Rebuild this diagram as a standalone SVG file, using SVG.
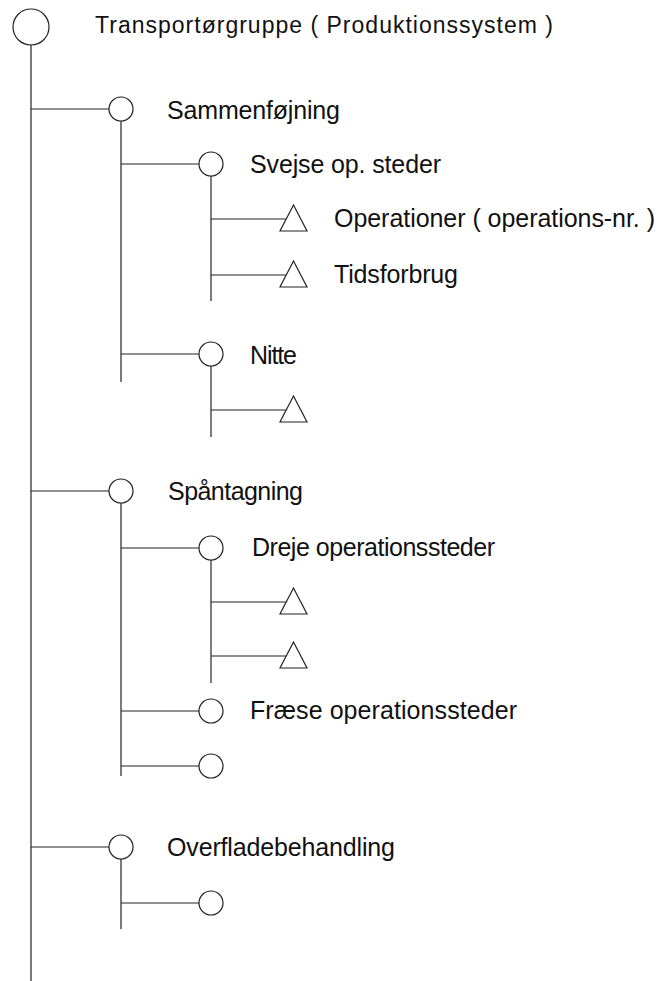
<svg xmlns="http://www.w3.org/2000/svg" width="661" height="981" viewBox="0 0 661 981">
<style>
.c{fill:#fff;stroke:#222;stroke-width:1.2}
.t{fill:#fff;stroke:#222;stroke-width:1.2;stroke-linejoin:miter}
.l{stroke:#222;stroke-width:1.2;fill:none}
text{font-family:"Liberation Sans",Arial,sans-serif;font-size:25px;fill:#111}
text.title{font-size:23px}
</style>
<rect width="661" height="981" fill="#fff"/>
<g id="connectors">
<line class="l" x1="31" y1="45" x2="31" y2="981"/>
<line class="l" x1="31" y1="109" x2="109" y2="109"/>
<line class="l" x1="31" y1="491" x2="109" y2="491"/>
<line class="l" x1="31" y1="847" x2="109" y2="847"/>
<line class="l" x1="121" y1="121" x2="121" y2="382"/>
<line class="l" x1="121" y1="164" x2="199" y2="164"/>
<line class="l" x1="121" y1="354" x2="199" y2="354"/>
<line class="l" x1="211" y1="176" x2="211" y2="301"/>
<line class="l" x1="211" y1="219" x2="287" y2="219"/>
<line class="l" x1="211" y1="275" x2="287" y2="275"/>
<line class="l" x1="211" y1="366" x2="211" y2="437"/>
<line class="l" x1="211" y1="410" x2="287" y2="410"/>
<line class="l" x1="121" y1="503" x2="121" y2="776"/>
<line class="l" x1="121" y1="548" x2="199" y2="548"/>
<line class="l" x1="121" y1="711" x2="199" y2="711"/>
<line class="l" x1="121" y1="766" x2="199" y2="766"/>
<line class="l" x1="211" y1="560" x2="211" y2="683"/>
<line class="l" x1="211" y1="602" x2="287" y2="602"/>
<line class="l" x1="211" y1="656" x2="287" y2="656"/>
<line class="l" x1="121" y1="859" x2="121" y2="929"/>
<line class="l" x1="121" y1="903" x2="199" y2="903"/>
</g>
<g id="n-transportgruppe"><circle class="c" cx="31" cy="27" r="18"/><text class="title" x="95" y="33" textLength="458" lengthAdjust="spacing">Transportørgruppe ( Produktionssystem )</text></g>
<g id="n-sammenfojning"><circle class="c" cx="121" cy="109" r="12"/><text x="167" y="119" textLength="173" lengthAdjust="spacing">Sammenføjning</text></g>
<g id="n-svejse"><circle class="c" cx="211" cy="164" r="12"/><text x="250" y="173" textLength="191" lengthAdjust="spacing">Svejse op. steder</text></g>
<g id="n-operationer"><polygon class="t" points="293.5,205 280,231 307,231"/><text x="334" y="227" textLength="321" lengthAdjust="spacing">Operationer ( operations-nr. )</text></g>
<g id="n-tidsforbrug"><polygon class="t" points="293.5,261 280,287 307,287"/><text x="334" y="283" textLength="124" lengthAdjust="spacing">Tidsforbrug</text></g>
<g id="n-nitte"><circle class="c" cx="211" cy="354" r="12"/><text x="250" y="364" textLength="47" lengthAdjust="spacing">Nitte</text></g>
<g id="n-nitte-attr"><polygon class="t" points="293.5,396 280,422 307,422"/></g>
<g id="n-spantagning"><circle class="c" cx="121" cy="491" r="12"/><text x="168" y="500" textLength="135" lengthAdjust="spacing">Spåntagning</text></g>
<g id="n-dreje"><circle class="c" cx="211" cy="548" r="12"/><text x="252" y="556" textLength="243" lengthAdjust="spacing">Dreje operationssteder</text></g>
<g id="n-dreje-attr1"><polygon class="t" points="293.5,588 280,614 307,614"/></g>
<g id="n-dreje-attr2"><polygon class="t" points="293.5,642 280,668 307,668"/></g>
<g id="n-fraese"><circle class="c" cx="211" cy="711" r="12"/><text x="250" y="719" textLength="267" lengthAdjust="spacing">Fræse operationssteder</text></g>
<g id="n-spantagning-child"><circle class="c" cx="211" cy="766" r="12"/></g>
<g id="n-overflade"><circle class="c" cx="121" cy="847" r="12"/><text x="167" y="856" textLength="228" lengthAdjust="spacing">Overfladebehandling</text></g>
<g id="n-overflade-child"><circle class="c" cx="211" cy="903" r="12"/></g>
</svg>
